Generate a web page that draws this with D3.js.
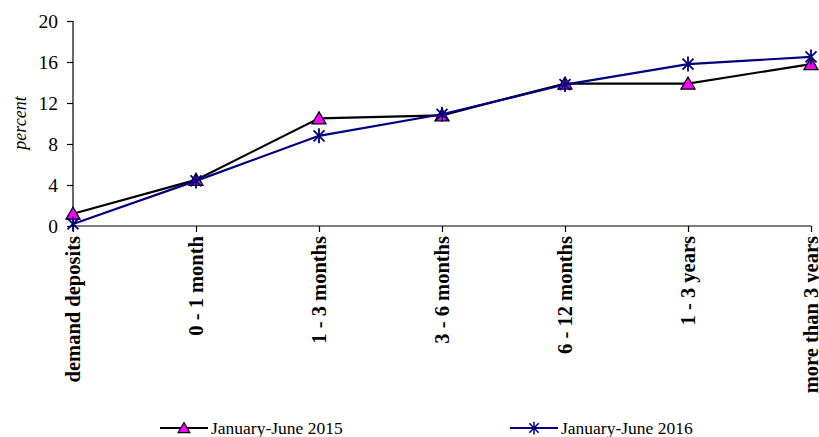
<!DOCTYPE html>
<html>
<head>
<meta charset="utf-8">
<script src="https://cdn.jsdelivr.net/npm/d3@7"></script>
<style>
  html, body { margin: 0; padding: 0; background: #fff; }
  svg { display: block; }
</style>
</head>
<body>
<svg id="chart" width="819" height="437"></svg>
<script>
// Deposit terms along the horizontal axis
const categories = ["demand deposits", "0 - 1 month", "1 - 3 months", "3 - 6 months",
                    "6 - 12 months", "1 - 3 years", "more than 3 years"];
// Interest rates, percent
const values2015 = [1.2, 4.5, 10.5, 10.8, 13.9, 13.9, 15.8];
const values2016 = [0.2, 4.4, 8.8, 10.9, 13.8, 15.8, 16.5];
const seriesNames = ["January-June 2015", "January-June 2016"];
const yTicks = [0, 4, 8, 12, 16, 20];

const FONT = "'Liberation Serif', 'Times New Roman', Times, 'DejaVu Serif', serif";

const svg = d3.select("#chart").attr("font-family", FONT);

const x = d3.scalePoint().domain(categories).range([73, 811]);
const y = d3.scaleLinear().domain([0, 20]).range([226, 21]);

// Y axis
const yAxis = svg.append("g")
  .attr("transform", "translate(73,0)")
  .call(d3.axisLeft(y).tickValues(yTicks).tickSize(6).tickPadding(9).tickFormat(d3.format("d")));
yAxis.attr("font-family", FONT).attr("font-size", 19.5);
yAxis.select(".domain").attr("stroke", "#000").attr("stroke-width", 1.2).attr("d", "M0,21V226");
yAxis.selectAll(".tick line").attr("stroke", "#000").attr("stroke-width", 1.2);
yAxis.selectAll(".tick text").attr("fill", "#000");

// X axis
const xAxis = svg.append("g")
  .attr("transform", "translate(0,226)")
  .call(d3.axisBottom(x).tickSize(6).tickFormat(""));
xAxis.select(".domain").attr("stroke", "#000").attr("stroke-width", 1.2).attr("d", "M73,0H811");
xAxis.selectAll(".tick line").attr("stroke", "#000").attr("stroke-width", 1.2);

// Rotated category labels
svg.append("g")
  .attr("font-family", FONT)
  .attr("font-weight", "bold")
  .attr("font-size", 20.5)
  .selectAll("text")
  .data(categories)
  .join("text")
  .attr("transform", d => `translate(${x(d)},236) rotate(-90)`)
  .attr("text-anchor", "end")
  .attr("dy", "0.35em")
  .text(d => d);

// Y axis title
svg.append("text")
  .attr("transform", "translate(20,123) rotate(-90)")
  .attr("text-anchor", "middle")
  .attr("dy", "0.35em")
  .attr("font-family", FONT)
  .attr("font-style", "italic")
  .attr("font-size", 18)
  .text("percent");

const line = d3.line().x((d, i) => x(categories[i])).y(d => y(d));

const triangle = "M0,-6.5L7,5.5L-7,5.5Z";
const star = "M-5.5,-5.5L5.5,5.5M-5.5,5.5L5.5,-5.5M0,-7.5V7.5";

function drawSeries(vals, color, marker, fill) {
  svg.append("path")
    .datum(vals)
    .attr("fill", "none")
    .attr("stroke", color)
    .attr("stroke-width", 2.2)
    .attr("d", line);
  svg.append("g").selectAll("path")
    .data(vals)
    .join("path")
    .attr("transform", (d, i) => `translate(${x(categories[i])},${y(d)})`)
    .attr("d", marker)
    .attr("fill", fill)
    .attr("stroke", color)
    .attr("stroke-width", marker === star ? 1.8 : 1.3);
}

drawSeries(values2015, "#000000", triangle, "#ff00ff");
drawSeries(values2016, "#000080", star, "none");

// Legend
const legend = [
  { name: seriesNames[0], color: "#000000", marker: triangle, fill: "#ff00ff", x0: 160 },
  { name: seriesNames[1], color: "#000080", marker: star, fill: "none", x0: 510 }
];
const lg = svg.append("g").selectAll("g").data(legend).join("g")
  .attr("transform", d => `translate(${d.x0},428)`);
lg.append("line").attr("x1", 0).attr("x2", 48)
  .attr("stroke", d => d.color).attr("stroke-width", 2.2);
lg.append("path").attr("transform", "translate(24,0) scale(0.85)")
  .attr("d", d => d.marker).attr("fill", d => d.fill)
  .attr("stroke", d => d.color).attr("stroke-width", d => d.marker === star ? 1.8 : 1.3);
lg.append("text").attr("x", 51).attr("dy", "0.35em")
  .attr("font-family", FONT).attr("font-size", 17.5).text(d => d.name);
</script>
</body>
</html>
